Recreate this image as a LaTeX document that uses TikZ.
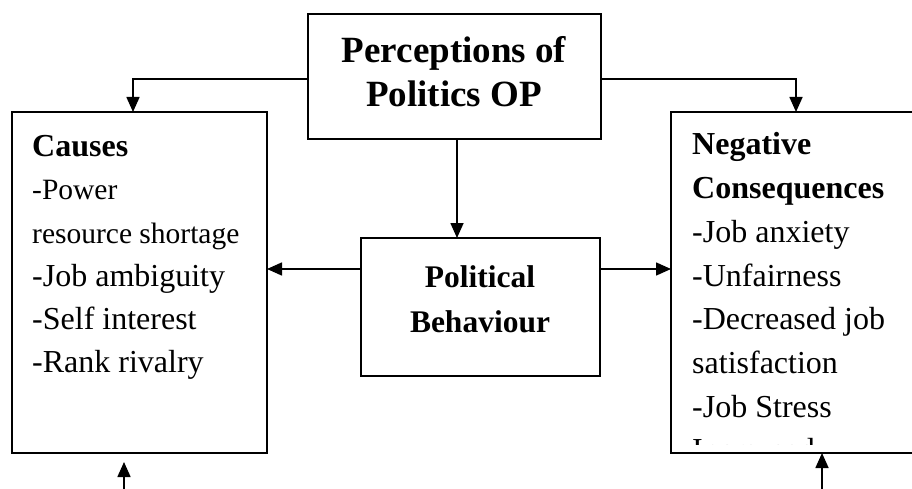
\documentclass[tikz,border=0pt]{standalone}
\usepackage{fontspec}
\setmainfont{Liberation Serif}
\usetikzlibrary{arrows.meta}
\begin{document}
\begin{tikzpicture}[x=1pt,y=-1pt,
  boxnode/.style={draw, line width=2pt, inner sep=0pt, outer sep=0pt},
  arr/.style={line width=1.6pt, -{Triangle[length=15pt,width=13pt]}},
  txt/.style={anchor=base west, inner sep=0pt, font=\fontsize{32}{40}\selectfont},
  smalltxt/.style={txt, font=\fontsize{29.5}{38}\selectfont},
  ttl/.style={anchor=base, inner sep=0pt, font=\fontsize{37}{44}\selectfont\bfseries},
  mid/.style={anchor=base, inner sep=0pt, font=\fontsize{31.5}{40}\selectfont\bfseries}]
\useasboundingbox (0,0) rectangle (912,489);

% boxes
\node[boxnode, minimum width=293pt, minimum height=125pt] (OP) at (454.5,76.5) {};
\node[boxnode, minimum width=255pt, minimum height=341pt] (C) at (139.5,282.5) {};
\node[boxnode, minimum width=250pt, minimum height=341pt] (N) at (796,282.5) {};
\node[boxnode, minimum width=239pt, minimum height=138pt] (PB) at (480.5,307) {};

% titles
\node[ttl] (op1) at (454,63) {Perceptions of};
\node[ttl] (op2) at (454,107) {Politics OP};
\node[mid] (pb1) at (480,287) {Political};
\node[mid] (pb2) at (480,332) {Behaviour};

% left box text
\node[txt] (c1) at (32,157) {\textbf{Causes}};
\node[smalltxt] (c2) at (32,200) {-Power};
\node[smalltxt] (c3) at (32,243) {resource shortage};
\node[txt] (c4) at (32,286) {-Job ambiguity};
\node[txt] (c5) at (32,329) {-Self interest};
\node[txt] (c6) at (32,372) {-Rank rivalry};

% right box text (clipped by the box's inner margin)
\begin{scope}
\clip ([xshift=1pt,yshift=-1pt]N.north west) rectangle ([xshift=-1pt,yshift=9pt]N.south east);
\node[txt] (n1) at (692,155) {\textbf{Negative}};
\node[txt] (n2) at (692,198.7) {\textbf{Consequences}};
\node[txt] (n3) at (692,242.4) {-Job anxiety};
\node[txt] (n4) at (692,286.1) {-Unfairness};
\node[txt] (n5) at (692,329.8) {-Decreased job};
\node[txt] (n6) at (692,373.5) {satisfaction};
\node[txt] (n7) at (692,417.2) {-Job Stress};
\node[txt] (n8) at (692,460.9) {Increased};
\end{scope}

% connectors
\draw[arr] ([yshift=-2.5pt]OP.west) -| ([xshift=-6.5pt]C.north);
\draw[arr] ([yshift=-2.5pt]OP.east) -| (N.north);
\draw[arr] ([xshift=2.5pt]OP.south) -- ([xshift=2.5pt]OP.south |- PB.north);
\draw[arr] ([yshift=38pt]PB.west) -- ([yshift=38pt]PB.west -| C.east);
\draw[arr] ([yshift=38pt]PB.east) -- ([yshift=38pt]PB.east -| N.west);

\coordinate (b1) at (124,489);
\coordinate (b2) at (822,489);
\draw[arr] (b1) -- ([yshift=-9pt]b1 |- C.south);
\draw[arr] (b2) -- (b2 |- N.south);
\end{tikzpicture}
\end{document}
